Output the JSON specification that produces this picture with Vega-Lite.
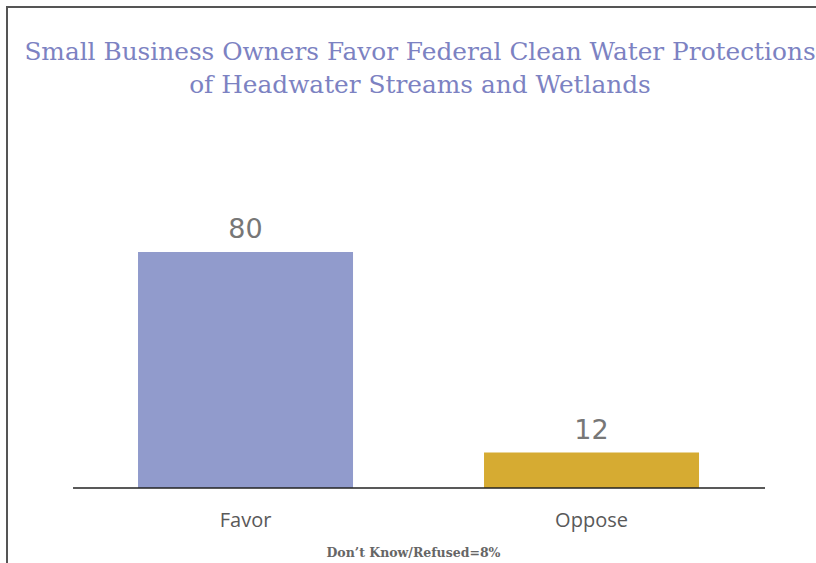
{
  "$schema": "https://vega.github.io/schema/vega-lite/v6.json",
  "autosize": "none",
  "padding": {"left": 7, "top": 7, "right": -3, "bottom": -3},
  "width": 812,
  "height": 559,
  "background": "white",
  "title": {
    "text": ["Small Business Owners Favor Federal Clean Water Protections", "of Headwater Streams and Wetlands"],
    "anchor": "middle",
    "frame": "group",
    "orient": "top",
    "offset": -111,
    "dx": 7,
    "baseline": "alphabetic",
    "lineHeight": 33,
    "font": "DejaVu Serif",
    "fontSize": 24.8,
    "fontWeight": "normal",
    "color": "#7c82c2"
  },
  "config": {
    "view": {"stroke": "#555", "strokeWidth": 2}
  },
  "layer": [
    {
      "data": {"values": [
        {"response": "Favor", "pct": 80},
        {"response": "Oppose", "pct": 12}
      ]},
      "mark": {"type": "bar"},
      "encoding": {
        "x": {
          "field": "response", "type": "nominal",
          "scale": {"domain": ["Favor", "Oppose"], "paddingInner": 0.3786, "paddingOuter": 0.3627, "align": 0.522},
          "axis": {
            "orient": "bottom", "offset": -78, "domain": false, "ticks": false, "labelAngle": 0,
            "labelFont": "Open Sans", "labelFontSize": 20, "labelColor": "#595959", "labelPadding": 22,
            "title": "Don’t Know/Refused=8%", "titleFont": "DejaVu Serif", "titleFontSize": 12.5,
            "titleFontWeight": "bold", "titleColor": "#666666", "titlePadding": 16
          }
        },
        "y": {
          "field": "pct", "type": "quantitative",
          "scale": {"domain": [-26.44, 163.05], "nice": false, "zero": false},
          "axis": null
        },
        "color": {
          "field": "response", "type": "nominal",
          "scale": {"domain": ["Favor", "Oppose"], "range": ["#919bcc", "#d6ab32"]},
          "legend": null
        }
      }
    },
    {
      "data": {"values": [
        {"response": "Favor", "pct": 80},
        {"response": "Oppose", "pct": 12}
      ]},
      "mark": {"type": "text", "baseline": "alphabetic", "dy": -14, "font": "DejaVu Sans", "fontSize": 27, "color": "#777777"},
      "encoding": {
        "x": {"field": "response", "type": "nominal"},
        "y": {"field": "pct", "type": "quantitative"},
        "text": {"field": "pct", "type": "quantitative"}
      }
    },
    {
      "data": {"values": [{"start": "Favor", "end": "Oppose"}]},
      "mark": {"type": "rule", "color": "#222222", "strokeWidth": 1.5},
      "encoding": {
        "x": {"field": "start", "type": "nominal", "bandPosition": -0.3023},
        "x2": {"field": "end", "bandPosition": 1.307},
        "y": {"datum": 0}
      }
    }
  ]
}
